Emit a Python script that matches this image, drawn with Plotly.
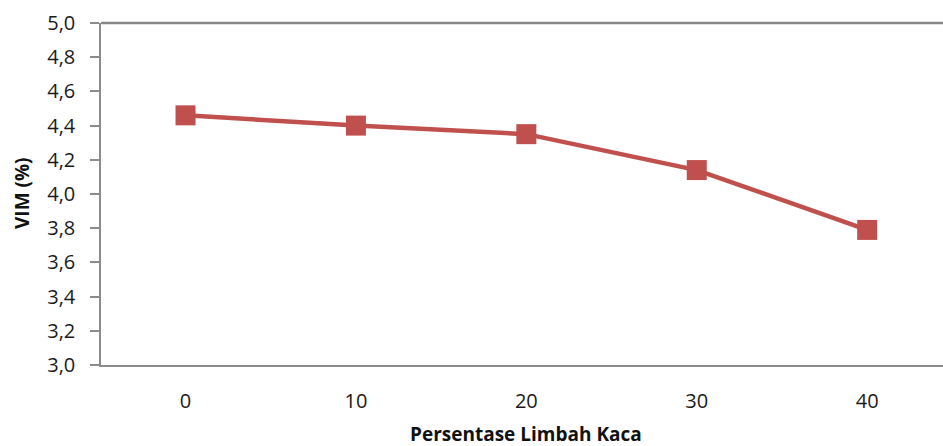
import plotly.graph_objects as go

categories = ["0", "10", "20", "30", "40"]
vim_values = [4.46, 4.40, 4.35, 4.14, 3.79]
y_tick_vals = [3.0, 3.2, 3.4, 3.6, 3.8, 4.0, 4.2, 4.4, 4.6, 4.8, 5.0]
y_tick_text = ["3,0", "3,2", "3,4", "3,6", "3,8", "4,0", "4,2", "4,4", "4,6", "4,8", "5,0"]
x_title = "Persentase Limbah Kaca"
y_title = "VIM (%)"

FONT = "Open Sans"
RED = "#C0504D"
AXIS = "#8C8C8C"
TXT = "#1A1A1A"

fig = go.Figure()
fig.add_trace(go.Scatter(
    x=list(range(len(categories))), y=vim_values,
    mode="lines+markers",
    line=dict(color=RED, width=4.5),
    marker=dict(symbol="square", size=20, color=RED),
    showlegend=False, hoverinfo="skip",
))

fig.update_layout(
    width=943, height=446,
    margin=dict(l=101, r=0, t=23, b=81),
    plot_bgcolor="white", paper_bgcolor="white",
    font=dict(family=FONT, size=20, color=TXT),
    xaxis=dict(
        range=[-0.496, 4.445],
        tickmode="array", tickvals=list(range(len(categories))), ticktext=categories,
        showgrid=False, zeroline=False,
        showline=True, linecolor=AXIS, linewidth=1.5,
        ticks="", ticklabelstandoff=17,
        tickfont=dict(family=FONT, size=20, color=TXT),
    ),
    yaxis=dict(
        range=[3.0, 5.0],
        tickmode="array", tickvals=y_tick_vals, ticktext=y_tick_text,
        showgrid=False, zeroline=False,
        showline=True, linecolor=AXIS, linewidth=1.5,
        ticks="outside", ticklen=9, tickcolor=AXIS, tickwidth=1.5,
        ticklabelstandoff=11,
        tickfont=dict(family=FONT, size=20, color=TXT),
    ),
    shapes=[dict(type="line", xref="paper", yref="paper", x0=0, x1=1, y0=1, y1=1,
                 line=dict(color="#888888", width=2.5))],
    annotations=[
        dict(text="<b>" + x_title + "</b>", xref="x", yref="paper", x=2, y=0,
             yshift=-69, showarrow=False, font=dict(family=FONT, size=19, color="#111111"),
             xanchor="center", yanchor="middle"),
        dict(text="<b>" + y_title + "</b>", xref="paper", yref="paper", x=0, y=0.5,
             xshift=-79, textangle=-90, showarrow=False,
             font=dict(family=FONT, size=19, color="#111111"),
             xanchor="center", yanchor="middle"),
    ],
)

fig.write_html("out.html")
